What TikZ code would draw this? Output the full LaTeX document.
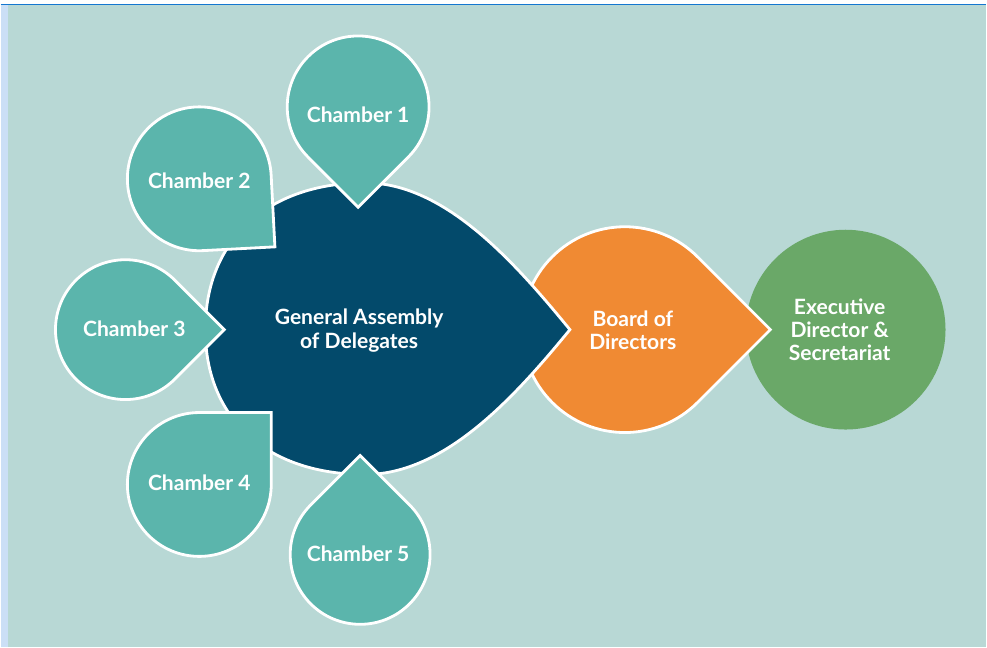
\documentclass[tikz,border=0pt]{standalone}
\usepackage{fontspec}
\setmainfont{Lato}
\usepackage{xcolor}
\usepackage{tikz}
\usetikzlibrary{
  calc
}
\definecolor{bgteal}{HTML}{B8D8D5}
\definecolor{chamber}{HTML}{5BB5AC}
\definecolor{assembly}{HTML}{034A6B}
\definecolor{board}{HTML}{F08A33}
\definecolor{execgreen}{HTML}{6AA868}
\definecolor{edgeblue}{HTML}{1477D0}
\definecolor{stripblue}{HTML}{CBDFF6}
% drop: centre, pointing angle, radius, style
\newcommand{\drop}[4]{
  \filldraw[#4] ($(#1)+(#2:1.4142*#3)$) -- ($(#1)+(#2+45:#3)$)
    arc[start angle=#2+45, delta angle=270, radius=#3] -- cycle;}
\tikzset{
  petal/.style={fill=chamber, draw=white, line width=1.6pt},
  lbl/.style={text=white, align=center,
    font=\bfseries\fontsize{12}{13.2}\selectfont}
  }

\begin{document}
\begin{tikzpicture}[x=0.02cm,y=0.02cm]
      % frame
      \fill[white] (0,0) rectangle (987,648);
      \fill[bgteal] (0,0) rectangle (987,643.5);
      \fill[stripblue] (0,0) rectangle (7,643.5);
      \draw[edgeblue, line width=0.6pt] (0,643.5) -- (987,643.5);
      % executive
      \fill[execgreen] (846,318) circle[radius=100];
      \node[lbl] (exec) at (840,318) {Executive\\Director \&\\Secretariat};
      % board
      \drop{625,318}{0}{103}{fill=board, draw=white, line width=1.6pt}
      \node[lbl] (bod) at (633,317) {Board of\\Directors};
      % assembly
      \filldraw[fill=assembly, draw=white, line width=1.6pt]
        (570,318) .. controls (515,385) and (445,465) .. (365,465)
        .. controls (270,465) and (205,410) .. (205,318)
        .. controls (205,226) and (270,173) .. (365,173)
        .. controls (445,173) and (515,251) .. (570,318) -- cycle;
      \node[lbl] (ga) at (359,317) {General Assembly\\of Delegates};
      % chambers
      \drop{358,541}{-90}{71}{petal}
      \drop{199,469}{-42}{72}{petal}
      \drop{125,318}{0}{70}{petal}
      \drop{199,163}{45}{72}{petal}
      \drop{360,93}{90}{70}{petal}
      \node[lbl] (ch1) at (358,533) {Chamber 1};
      \node[lbl] (ch2) at (199,467) {Chamber 2};
      \node[lbl] (ch3) at (134,319) {Chamber 3};
      \node[lbl] (ch4) at (199,165) {Chamber 4};
      \node[lbl] (ch5) at (358,94) {Chamber 5};
\end{tikzpicture}
\end{document}
